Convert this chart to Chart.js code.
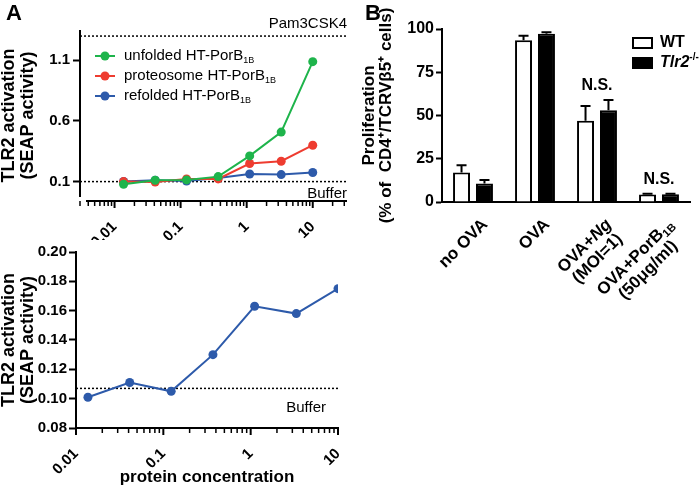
<!DOCTYPE html>
<html>
<head>
<meta charset="utf-8">
<script src="https://cdn.jsdelivr.net/npm/chart.js@4.4.1/dist/chart.umd.min.js"></script>
<style>
  body { margin: 0; background: #fff; font-family: 'Liberation Sans', Arial, sans-serif; }
  #wrap { position: relative; width: 700px; height: 490px; overflow: hidden; }
  #wrap canvas { position: absolute; }
  .panel { position: absolute; font-weight: bold; font-size: 22px; line-height: 22px; }
</style>
</head>
<body>
<div id="wrap">
  <canvas id="top-graph" width="360" height="240" style="left:0;top:0"></canvas>
  <canvas id="refolded-graph" width="360" height="250" style="left:0;top:240px"></canvas>
  <canvas id="prolif-graph" width="340" height="300" style="left:360px;top:0"></canvas>
  <div class="panel" style="left:6px;top:2px">A</div>
  <div class="panel" style="left:365px;top:2px">B</div>
</div>
<script>
// panel A: protein concentrations (3-fold dilutions)
const concentrations = [0.0137, 0.0412, 0.123, 0.370, 1.11, 3.33, 10];
const unfoldedValues = [0.078, 0.111, 0.114, 0.141, 0.312, 0.508, 1.089];
const proteosomeValues = [0.100, 0.097, 0.122, 0.122, 0.249, 0.268, 0.400];
const refoldedValues = [0.101, 0.111, 0.105, 0.130, 0.163, 0.158, 0.175];
const pam3Level = 1.3;
const bufferTop = 0.1;
const bufferZoom = 0.107;
const topYTicks = [0.1, 0.6, 1.1];
const zoomYTicks = [0.08, 0.10, 0.12, 0.14, 0.16, 0.18, 0.20];

// panel B
const groups = ['no OVA', 'OVA', 'OVA+Ng (MOI=1)', 'OVA+PorB1B (50μg/ml)'];
const wtValues = [17, 93.5, 47, 4.3];
const wtErrors = [4.3, 2.6, 8.5, 0.5];
const koValues = [10.7, 97.3, 53, 4.5];
const koErrors = [2.0, 0.8, 6.0, 0.3];
const prolifTicks = [0, 25, 50, 75, 100];
const nsGroups = [2, 3];
const groupLabelLines = [
    [[{t: 'no OVA'}]],
    [[{t: 'OVA'}]],
    [[{t: 'OVA+'}, {t: 'Ng', italic: true}], [{t: '(MOI=1)'}]],
    [[{t: 'OVA+PorB'}, {t: '1B', sub: true}], [{t: '(50μg/ml)'}]]
];

const FONT = "'Liberation Sans', Arial, Helvetica, sans-serif";
const GREEN = 'rgb(30,180,75)';
const RED = 'rgb(238,60,48)';
const BLUE = 'rgb(45,90,170)';

Chart.defaults.font.family = FONT;
Chart.defaults.color = '#000';

function isDecade(v) {
    const l = Math.log10(v);
    return Math.abs(l - Math.round(l)) < 1e-6;
}

function toPoints(values) {
    return values.map((v, i) => ({x: concentrations[i], y: v}));
}

// 1..9 x 10^n ticks between min and max
function decadeTicks(min, max) {
    const out = [];
    for (let e = Math.floor(Math.log10(min)); e <= Math.ceil(Math.log10(max)); e++) {
        for (let k = 1; k <= 9; k++) {
            const v = parseFloat((k * Math.pow(10, e)).toPrecision(6));
            if (v >= min * 0.999 && v <= max * 1.001) out.push({value: v});
        }
    }
    return out;
}

function partFont(p, size, weight) {
    const s = (p.sub || p.sup) ? Math.round(size * 0.62) : size;
    return (p.italic ? 'italic ' : '') + weight + ' ' + s + 'px ' + FONT;
}

function richWidth(ctx, parts, size, weight) {
    let w = 0;
    parts.forEach(p => { ctx.font = partFont(p, size, weight); w += ctx.measureText(p.t).width; });
    return w;
}

// draws left aligned, vertically centred on y
function drawRich(ctx, parts, x, y, size, weight) {
    let cx = x;
    ctx.textBaseline = 'middle';
    ctx.textAlign = 'left';
    parts.forEach(p => {
        ctx.font = partFont(p, size, weight);
        let dy = 0;
        if (p.sub) dy = size * 0.3;
        if (p.sup) dy = -size * 0.35;
        ctx.fillText(p.t, cx, y + dy);
        cx += ctx.measureText(p.t).width;
    });
}

// major and minor tick marks hanging under the log axis
const logTicksPlugin = {
    id: 'logTicks',
    afterDraw(chart) {
        const xs = chart.scales.x;
        const ctx = chart.ctx;
        const y0 = chart.chartArea.bottom;
        ctx.save();
        ctx.strokeStyle = '#000';
        decadeTicks(xs.min, xs.max).forEach(t => {
            const px = xs.getPixelForValue(t.value);
            const major = isDecade(t.value);
            ctx.lineWidth = major ? 2 : 1.5;
            ctx.beginPath();
            ctx.moveTo(px, y0);
            ctx.lineTo(px, y0 + (major ? 7 : 5));
            ctx.stroke();
        });
        ctx.restore();
    }
};

function refLines(lines) {
    return {
        id: 'refLines',
        beforeDatasetsDraw(chart) {
            const ctx = chart.ctx;
            const ca = chart.chartArea;
            const ys = chart.scales.y;
            ctx.save();
            lines.forEach(l => {
                const py = ys.getPixelForValue(l.value);
                ctx.strokeStyle = '#000';
                ctx.lineWidth = 1.5;
                ctx.setLineDash([2, 2]);
                ctx.beginPath();
                ctx.moveTo(ca.left, py);
                ctx.lineTo(ca.right, py);
                ctx.stroke();
                ctx.setLineDash([]);
                ctx.fillStyle = '#000';
                ctx.font = '15px ' + FONT;
                ctx.textAlign = 'right';
                ctx.textBaseline = 'middle';
                ctx.fillText(l.label, ca.right - (l.inset || 0), py + l.dy);
            });
            ctx.restore();
        }
    };
}

// GraphPad style axes that do not touch in the corner
const gapAxesPlugin = {
    id: 'gapAxes',
    afterDraw(chart) {
        const ctx = chart.ctx;
        const ca = chart.chartArea;
        ctx.save();
        ctx.strokeStyle = '#000';
        ctx.lineWidth = 2;
        ctx.beginPath();
        ctx.moveTo(ca.left, ca.top);
        ctx.lineTo(ca.left, ca.bottom - 4);
        ctx.moveTo(ca.left + 6, ca.bottom);
        ctx.lineTo(ca.right, ca.bottom);
        ctx.stroke();
        ctx.restore();
    }
};

const topLegendPlugin = {
    id: 'topLegend',
    afterDraw(chart) {
        const ctx = chart.ctx;
        ctx.save();
        chart.data.datasets.forEach((ds, i) => {
            const y = 56 + i * 20;
            ctx.strokeStyle = ds.borderColor;
            ctx.fillStyle = ds.borderColor;
            ctx.lineWidth = 2;
            ctx.beginPath();
            ctx.moveTo(95, y);
            ctx.lineTo(115, y);
            ctx.stroke();
            ctx.beginPath();
            ctx.arc(105, y, 4.5, 0, Math.PI * 2);
            ctx.fill();
            ctx.fillStyle = '#000';
            drawRich(ctx, [{t: ds.label}, {t: '1B', sub: true}], 124, y, 15, 'normal');
        });
        ctx.restore();
    }
};

function xLogScale(min, max, height, extra) {
    return Object.assign({
        type: 'logarithmic',
        min: min,
        max: max,
        afterBuildTicks: s => { s.ticks = decadeTicks(min, max); },
        grid: {display: false},
        ticks: {
            autoSkip: false,
            minRotation: 45,
            maxRotation: 45,
            padding: 9,
            font: {size: 15, weight: 'bold'},
            callback: v => isDecade(v) ? String(v) : ''
        },
        afterFit: s => {
            s.height = height;
            s.paddingLeft = 0;
            s.paddingRight = 0;
        }
    }, extra);
}

const seapTitle = {
    display: true,
    text: ['TLR2 activation', '(SEAP activity)'],
    font: {size: 18, weight: 'bold', lineHeight: 1.05},
    padding: {top: 0, bottom: 4}
};

new Chart(document.getElementById('top-graph'), {
    type: 'line',
    data: {
        datasets: [
            {label: 'unfolded HT-PorB', data: toPoints(unfoldedValues), borderColor: GREEN, backgroundColor: GREEN},
            {label: 'proteosome HT-PorB', data: toPoints(proteosomeValues), borderColor: RED, backgroundColor: RED},
            {label: 'refolded HT-PorB', data: toPoints(refoldedValues), borderColor: BLUE, backgroundColor: BLUE}
        ]
    },
    options: {
        responsive: false,
        animation: false,
        layout: {padding: {top: 30, right: 13, left: 0, bottom: 0}},
        elements: {
            point: {radius: 4.5, borderWidth: 0},
            line: {borderWidth: 2, tension: 0}
        },
        plugins: {legend: {display: false}, tooltip: {enabled: false}},
        scales: {
            x: xLogScale(0.003, 33, 39, {border: {display: false}}),
            y: {
                min: -0.06,
                max: 1.35,
                afterBuildTicks: s => { s.ticks = topYTicks.map(v => ({value: v})); },
                grid: {drawOnChartArea: false, tickLength: 7, tickWidth: 2, tickColor: '#000'},
                border: {display: false},
                ticks: {padding: 3, font: {size: 15, weight: 'bold'}, callback: v => v.toFixed(1)},
                title: seapTitle,
                afterFit: s => { s.width = 80; }
            }
        }
    },
    plugins: [
        refLines([
            {value: pam3Level, label: 'Pam3CSK4', dy: -12},
            {value: bufferTop, label: 'Buffer', dy: 12}
        ]),
        logTicksPlugin, gapAxesPlugin, topLegendPlugin
    ]
});

new Chart(document.getElementById('refolded-graph'), {
    type: 'line',
    data: {
        datasets: [
            {label: 'refolded HT-PorB', data: toPoints(refoldedValues), borderColor: BLUE, backgroundColor: BLUE}
        ]
    },
    options: {
        responsive: false,
        animation: false,
        layout: {padding: {top: 12, right: 22, left: 0, bottom: 0}},
        elements: {
            point: {radius: 4.5, borderWidth: 0},
            line: {borderWidth: 2, tension: 0}
        },
        plugins: {legend: {display: false}, tooltip: {enabled: false}},
        scales: {
            x: xLogScale(0.01, 10, 62, {
                border: {display: true, width: 2, color: '#000'},
                title: {display: true, text: 'protein concentration', font: {size: 17, weight: 'bold'}, padding: {top: 2, bottom: 2}}
            }),
            y: {
                min: 0.08,
                max: 0.20,
                afterBuildTicks: s => { s.ticks = zoomYTicks.map(v => ({value: v})); },
                grid: {drawOnChartArea: false, tickLength: 7, tickWidth: 2, tickColor: '#000'},
                border: {display: true, width: 2, color: '#000'},
                ticks: {padding: 2, font: {size: 15, weight: 'bold'}, callback: v => v.toFixed(2)},
                title: seapTitle,
                afterFit: s => { s.width = 76; }
            }
        }
    },
    plugins: [
        refLines([{value: bufferZoom, label: 'Buffer', dy: 19, inset: 12}]),
        logTicksPlugin
    ]
});

const errorBarsPlugin = {
    id: 'errorBars',
    afterDatasetsDraw(chart) {
        const ctx = chart.ctx;
        const ys = chart.scales.y;
        ctx.save();
        ctx.strokeStyle = '#000';
        ctx.lineWidth = 2;
        chart.data.datasets.forEach((ds, d) => {
            chart.getDatasetMeta(d).data.forEach((bar, i) => {
                const top = ys.getPixelForValue(ds.data[i]);
                const end = ys.getPixelForValue(ds.data[i] + ds.errors[i]);
                ctx.beginPath();
                ctx.moveTo(bar.x, top);
                ctx.lineTo(bar.x, end);
                ctx.moveTo(bar.x - 5, end);
                ctx.lineTo(bar.x + 5, end);
                ctx.stroke();
            });
        });
        ctx.restore();
    }
};

const prolifExtrasPlugin = {
    id: 'prolifExtras',
    afterDraw(chart) {
        const ctx = chart.ctx;
        const xs = chart.scales.x;
        const ys = chart.scales.y;
        const ca = chart.chartArea;
        ctx.save();
        ctx.fillStyle = '#000';

        // N.S. marks
        ctx.font = 'bold 16px ' + FONT;
        ctx.textAlign = 'center';
        ctx.textBaseline = 'bottom';
        nsGroups.forEach(g => {
            const top = Math.max(wtValues[g] + wtErrors[g], koValues[g] + koErrors[g]);
            ctx.fillText('N.S.', xs.getPixelForValue(g), ys.getPixelForValue(top) - 6);
        });

        // rotated group labels
        groupLabelLines.forEach((lines, g) => {
            const widths = lines.map(l => richWidth(ctx, l, 17, 'bold'));
            const maxW = Math.max.apply(null, widths);
            ctx.save();
            ctx.translate(xs.getPixelForValue(g) + 12, ca.bottom + 20);
            ctx.rotate(-Math.PI / 4);
            lines.forEach((l, k) => {
                drawRich(ctx, l, -maxW / 2 - widths[k] / 2, k * 18, 17, 'bold');
            });
            ctx.restore();
        });

        // legend
        ctx.lineWidth = 2;
        ctx.strokeStyle = '#000';
        ctx.strokeRect(273, 38, 19, 10);
        ctx.fillRect(272, 57, 21, 12);
        drawRich(ctx, [{t: 'WT'}], 300, 43, 16, 'bold');
        drawRich(ctx, [{t: 'Tlr2', italic: true}, {t: '-/-', sup: true}], 300, 63, 16, 'bold');
        ctx.restore();
    }
};

new Chart(document.getElementById('prolif-graph'), {
    type: 'bar',
    data: {
        labels: groups,
        datasets: [
            {label: 'WT', data: wtValues, errors: wtErrors, backgroundColor: '#fff', borderColor: '#000', borderWidth: 2},
            {label: 'Tlr2-/-', data: koValues, errors: koErrors, backgroundColor: '#000', borderColor: '#000', borderWidth: 2}
        ]
    },
    options: {
        responsive: false,
        animation: false,
        layout: {padding: {top: 29, right: 10, left: 0, bottom: 0}},
        datasets: {bar: {categoryPercentage: 0.74, barPercentage: 0.74}},
        plugins: {legend: {display: false}, tooltip: {enabled: false}},
        scales: {
            x: {
                grid: {display: false},
                border: {display: true, width: 2, color: '#000'},
                ticks: {display: false},
                afterFit: s => { s.height = 98; }
            },
            y: {
                min: 0,
                max: 100,
                afterBuildTicks: s => { s.ticks = prolifTicks.map(v => ({value: v})); },
                grid: {drawOnChartArea: false, tickLength: 6, tickWidth: 2, tickColor: '#000'},
                border: {display: true, width: 2, color: '#000'},
                ticks: {padding: 2, font: {size: 16, weight: 'bold'}},
                title: {
                    display: true,
                    text: ['Proliferation', '(% of  CD4⁺/TCRVβ5⁺ cells)'],
                    font: {size: 17, weight: 'bold', lineHeight: 1.05},
                    padding: {top: 0, bottom: 6}
                },
                afterFit: s => { s.width = 82; }
            }
        }
    },
    plugins: [errorBarsPlugin, prolifExtrasPlugin]
});
</script>
</body>
</html>
